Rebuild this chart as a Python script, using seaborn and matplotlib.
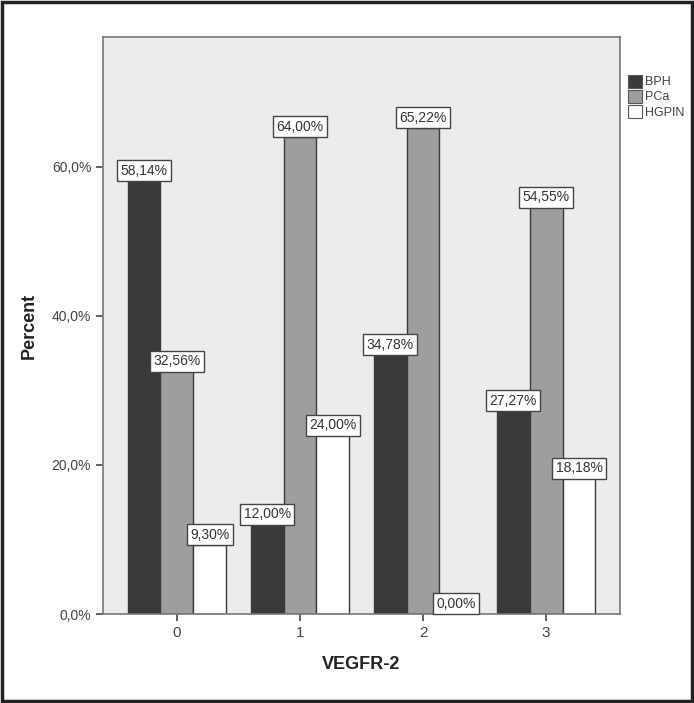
import matplotlib
matplotlib.use("Agg")
import matplotlib.pyplot as plt
import seaborn as sns
import pandas as pd
from matplotlib.patches import Rectangle

categories = ["0", "1", "2", "3"]
groups = ["BPH", "PCa", "HGPIN"]
bph = [58.14, 12.00, 34.78, 27.27]
pca = [32.56, 64.00, 65.22, 54.55]
hgpin = [9.30, 24.00, 0.00, 18.18]
yticks = [0, 20, 40, 60]
ytick_labels = ["0,0%", "20,0%", "40,0%", "60,0%"]

rows = []
for g, vals in zip(groups, [bph, pca, hgpin]):
    for c, v in zip(categories, vals):
        rows.append({"VEGFR-2": c, "group": g, "Percent": v})
df = pd.DataFrame(rows)

sns.set_theme(style="white")
plt.rcParams['font.family'] = ['Liberation Sans', 'DejaVu Sans']

fig = plt.figure(figsize=(6.94, 7.03), dpi=100)
ax = fig.add_axes([103/694, 1 - 614/703, (620-103)/694, (614-37)/703])
ax.set_facecolor("#ececec")

palette = {"BPH": "#3a3a3a", "PCa": "#9e9e9e", "HGPIN": "#ffffff"}
sns.barplot(data=df, x="VEGFR-2", y="Percent", hue="group", order=categories,
            hue_order=groups, palette=palette, width=0.8, saturation=1,
            edgecolor="#3a3a3a", linewidth=1.0, ax=ax, legend=False)

for cont in ax.containers:
    for bar in cont:
        h = bar.get_height()
        x = bar.get_x() + bar.get_width() / 2
        ax.annotate(f"{h:.2f}%".replace(".", ","), (x, h), xytext=(0, 2.2),
                    textcoords="offset points", ha="center", va="bottom",
                    fontsize=10, color="#333333",
                    bbox=dict(boxstyle="square,pad=0.25", fc="white", ec="#444444", lw=1.0))

ax.set_xlim(-0.6, 3.6)
ax.set_ylim(0, 77.4)
ax.set_yticks(yticks)
ax.set_yticklabels(ytick_labels, fontsize=10, color="#444444")
ax.tick_params(axis="x", labelsize=11, colors="#444444", length=5, width=1.2, direction="out", bottom=True)
ax.tick_params(axis="y", length=5, width=1.2, direction="out", left=True, colors="#444444")
for s in ax.spines.values():
    s.set_visible(True)
    s.set_color("#777777")
    s.set_linewidth(1.2)
ax.set_xlabel("VEGFR-2", fontsize=13, fontweight="bold", color="#222222", labelpad=12)
ax.set_ylabel("Percent", fontsize=13, fontweight="bold", color="#222222", labelpad=10)

handles = [Rectangle((0, 0), 1, 1, fc=palette[g], ec="#555555", lw=0.8) for g in groups]
leg = fig.legend(handles, groups, loc="upper left", bbox_to_anchor=(619/694, 1 - 66/703),
                 frameon=False, fontsize=9, handlelength=1.1, handleheight=1.2,
                 handletextpad=0.3, labelspacing=0.12, borderpad=0.2)
for t in leg.get_texts():
    t.set_color("#444444")

fig.patches.append(Rectangle((0.003, 0.003), 0.994, 0.994, transform=fig.transFigure,
                             fill=False, ec="#222222", lw=2.5))
fig.savefig("out.png", dpi=100)
